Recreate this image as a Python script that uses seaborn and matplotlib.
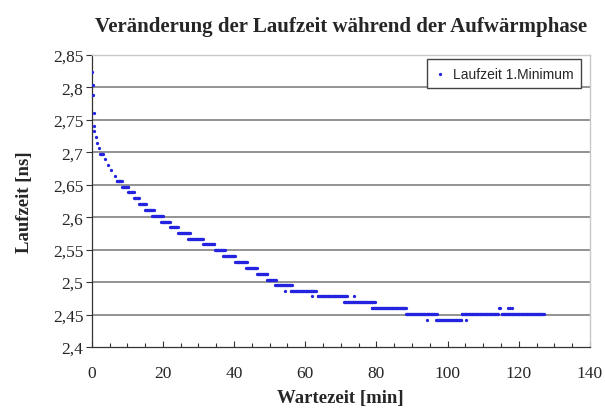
import numpy as np
import pandas as pd
import matplotlib
matplotlib.use("Agg")
import matplotlib.pyplot as plt
from matplotlib.ticker import MultipleLocator
import seaborn as sns

# single readings (early warm-up and stray samples)
single_t = [0.1, 0.25, 0.45, 0.55, 0.65, 0.75, 1.1, 1.5, 2.1, 3.7, 4.5, 5.4, 6.5,
            54.4, 61.8, 73.7, 94.1, 105.2, 114.4, 114.8, 117.0, 117.6, 118.2]
single_v = [2.823, 2.804, 2.788, 2.761, 2.741, 2.733, 2.724, 2.714, 2.706, 2.690,
            2.680, 2.672, 2.663, 2.487, 2.478, 2.478, 2.442, 2.442, 2.460, 2.460,
            2.460, 2.460, 2.460]

# plateaus of constant delay: start [min], end [min], value [ns]
seg_start = [2.4, 7.0, 8.5, 10.2, 11.9, 13.3, 15.0, 17.0, 19.5, 22.0, 24.2, 27.1,
             31.3, 34.6, 36.9, 40.3, 43.4, 46.4, 49.3, 51.6, 55.9, 63.5, 70.9,
             78.7, 88.3, 96.7, 104.0, 115.2]
seg_end = [3.3, 8.4, 10.3, 11.9, 13.3, 15.3, 17.5, 20.0, 22.0, 24.2, 27.6, 31.3,
           34.6, 37.5, 40.3, 43.6, 46.4, 49.5, 51.8, 56.2, 63.0, 71.7, 79.6,
           88.3, 96.9, 104.0, 114.2, 127.1]
seg_level = [2.697, 2.656, 2.647, 2.638, 2.629, 2.620, 2.611, 2.602, 2.593, 2.585,
             2.576, 2.567, 2.558, 2.549, 2.540, 2.531, 2.522, 2.513, 2.504, 2.496,
             2.487, 2.478, 2.469, 2.460, 2.451, 2.442, 2.451, 2.451]
sample_step = 0.2  # measurement interval [min]

y_ticks = [2.4, 2.45, 2.5, 2.55, 2.6, 2.65, 2.7, 2.75, 2.8, 2.85]
y_labels = ["2,4", "2,45", "2,5", "2,55", "2,6", "2,65", "2,7", "2,75", "2,8", "2,85"]
x_ticks = [0, 20, 40, 60, 80, 100, 120, 140]

t_all, v_all = list(single_t), list(single_v)
for a, b, v in zip(seg_start, seg_end, seg_level):
    ts = np.arange(a, b + 1e-9, sample_step)
    t_all += list(ts)
    v_all += [v] * len(ts)
df = pd.DataFrame({"Wartezeit": t_all, "Laufzeit": v_all})

sns.set_style("white")
plt.rcParams["font.family"] = ["Liberation Serif", "DejaVu Serif"]

fig = plt.figure(figsize=(6.05, 4.10), dpi=100)
ax = fig.add_axes([0.1516, 0.151, 0.8234, 0.713])

for y in y_ticks[1:-1]:
    ax.axhline(y, color="#8a8a8a", lw=1.3, zorder=0)

sns.scatterplot(data=df, x="Wartezeit", y="Laufzeit", ax=ax, color="#2424e0",
                marker="o", s=5.5, linewidth=0, label="Laufzeit 1.Minimum", zorder=3)

ax.set_xlim(0, 140)
ax.set_ylim(2.4, 2.85)
ax.set_xticks(x_ticks)
ax.set_xticklabels([str(x) for x in x_ticks])
ax.xaxis.set_minor_locator(MultipleLocator(5))
ax.set_yticks(y_ticks)
ax.set_yticklabels(y_labels)
ax.tick_params(axis="y", which="major", labelsize=12.5, length=4, width=0.8,
               color="#333333", direction="out", pad=2, left=True)
ax.tick_params(axis="x", which="major", labelsize=12.5, length=4, width=0.8,
               color="#333333", direction="in", pad=13, bottom=True)
ax.tick_params(axis="x", which="minor", length=3, width=0.8, color="#333333",
               direction="in", bottom=True)

for side in ["left", "bottom"]:
    ax.spines[side].set_color("#333333")
    ax.spines[side].set_linewidth(0.9)
for side in ["top", "right"]:
    ax.spines[side].set_color("#c8c8c8")
    ax.spines[side].set_linewidth(1.0)

ax.set_title("Veränderung der Laufzeit während der Aufwärmphase",
             fontsize=15, fontweight="bold", pad=17)
ax.set_xlabel("Wartezeit [min]", fontsize=13.5, fontweight="bold", labelpad=6)
ax.set_ylabel("Laufzeit [ns]", fontsize=13.5, fontweight="bold", labelpad=14)

leg = ax.legend(loc="upper right", bbox_to_anchor=(0.982, 0.985), frameon=True,
                fancybox=False, edgecolor="#444444", framealpha=1,
                prop={"family": "Liberation Sans", "size": 10},
                handlelength=0.8, handletextpad=0.5, borderpad=0.55,
                markerscale=1.0, borderaxespad=0)
leg.get_frame().set_linewidth(1.0)

fig.savefig("out.png", dpi=100, facecolor="white")
